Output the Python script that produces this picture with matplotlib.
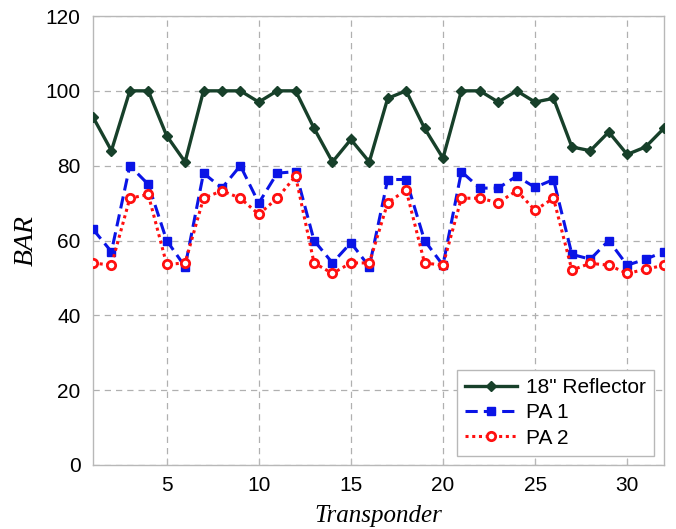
import matplotlib
matplotlib.use("Agg")
import matplotlib.pyplot as plt
import numpy as np

transponder = list(range(1, 33))
reflector = [93, 84, 100, 100, 88, 81, 100, 100, 100, 97, 100, 100, 90, 81, 87, 81,
             98, 100, 90, 82, 100, 100, 97, 100, 97, 98, 85, 84, 89, 83, 85, 90]
pa1 = [63, 57, 80, 75, 60, 53, 78, 74, 80, 70, 78, 78.4, 60, 54, 59.4, 53,
       76.3, 76.3, 60, 53.4, 78.4, 74, 74, 77.2, 74.2, 76.3, 56.3, 55, 60, 53.4, 55, 57]
pa2 = [54, 53.4, 71.3, 72.3, 53.6, 54, 71.3, 73.3, 71.3, 67, 71.3, 77.2, 54, 51.2, 54, 54,
       70.1, 73.5, 54, 53.4, 71.3, 71.3, 70.1, 73.3, 68.1, 71.3, 52.1, 53.9, 53.4, 51.2, 52.3, 53.4]

fig = plt.figure(figsize=(6.76, 5.29), dpi=100)
ax = fig.add_axes([93/676, 1-465/529, (664-93)/676, (465-16)/529])

ax.plot(transponder, reflector, color='#17402a', lw=2.4, marker='D', ms=5,
        label='18" Reflector', zorder=3)
ax.plot(transponder, pa1, color='#0a14e6', lw=2.2, ls=(0, (4, 2)), marker='s', ms=6,
        mfc='#0a14e6', mec='#0a14e6', label='PA 1', zorder=4)
ax.plot(transponder, pa2, color='#ff1010', lw=2.2, ls=(0, (1, 1.2)), marker='o', ms=6,
        mfc='white', mec='#ff1010', mew=2, label='PA 2', zorder=5)

ax.set_xlim(1, 32)
ax.set_ylim(0, 120)
ax.set_xticks([5, 10, 15, 20, 25, 30])
ax.set_yticks(range(0, 121, 20))
ax.grid(True, color='#b0b0b0', ls=(0, (5, 4)), lw=0.9)
ax.set_axisbelow(True)
for s in ax.spines.values():
    s.set_color('#b8b8b8')
    s.set_linewidth(1.0)
ax.tick_params(axis='x', direction='in', length=5, color='#b8b8b8', pad=8)
ax.tick_params(axis='y', length=0, pad=9)
for lab in ax.get_xticklabels() + ax.get_yticklabels():
    lab.set_fontfamily('Liberation Sans')
    lab.set_fontsize(15)

ax.set_xlabel('Transponder', family='Liberation Serif', style='italic', fontsize=18, labelpad=7)
ax.set_ylabel('BAR', family='Liberation Serif', style='italic', fontsize=20, labelpad=5)

leg = ax.legend(loc='lower right', prop={'family': 'Liberation Sans', 'size': 15},
                fancybox=False, framealpha=1, edgecolor='#b8b8b8', handlelength=2.5,
                borderpad=0.4, labelspacing=0.3, handletextpad=0.4, borderaxespad=0,
                bbox_to_anchor=(1 - 10/571, 9/449))
leg.get_frame().set_linewidth(1.0)

fig.savefig('out.png', dpi=100)
